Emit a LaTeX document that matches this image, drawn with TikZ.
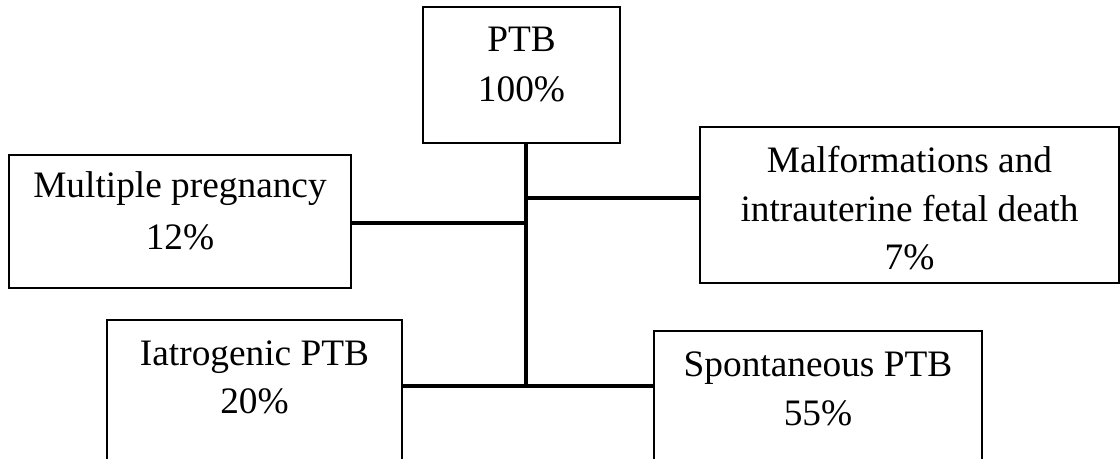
\documentclass[tikz,border=0pt]{standalone}
\usepackage{fontspec}
\setmainfont{Liberation Serif}
\begin{document}
\begin{tikzpicture}[x=0.75pt,y=-0.75pt,
  boxnode/.style={draw=black,line width=1.3pt,rectangle,inner sep=0pt,fill=white},
  txt/.style={anchor=base,inner sep=0pt,font=\fontsize{28}{34}\selectfont},
  conn/.style={draw=black,line width=2.8pt}]
\useasboundingbox (0,0) rectangle (1120,459);
\clip (0,0) rectangle (1120,459);
\fill[white] (0,0) rectangle (1120,459);
% boxes
\node[boxnode,minimum width=147.75pt,minimum height=102pt] (P) at (521.5,75) {};
\node[boxnode,minimum width=256.5pt,minimum height=99.75pt] (M) at (180,221.5) {};
\node[boxnode,minimum width=314.25pt,minimum height=117pt] (F) at (909.5,205) {};
\node[boxnode,minimum width=221.25pt,minimum height=112.5pt] (I) at (254.5,395) {};
\node[boxnode,minimum width=246pt,minimum height=111.75pt] (S) at (818,405.5) {};
% junctions
\coordinate (jF) at (526,198);
\coordinate (jM) at (526,223);
\coordinate (jB) at (526,386);
% connectors
\draw[conn] (jB |- P.south) -- (jB);
\draw[conn] (jF) -- (jF -| F.west);
\draw[conn] (M.east |- jM) -- (jM);
\draw[conn] (I.east |- jB) -- (jB) -- (jB -| S.west);
% texts
\node[txt] (p1) at (521.5,52) {PTB};
\node[txt] (p2) at (521.5,102) {100\%};
\node[txt] (m1) at (180,198) {Multiple pregnancy};
\node[txt] (m2) at (180,250) {12\%};
\node[txt] (f1) at (909.5,173) {Malformations and};
\node[txt] (f2) at (909.5,222) {intrauterine fetal death};
\node[txt] (f3) at (909.5,270) {7\%};
\node[txt] (i1) at (254.5,365) {Iatrogenic PTB};
\node[txt] (i2) at (254.5,413) {20\%};
\node[txt] (s1) at (818,377) {Spontaneous PTB};
\node[txt] (s2) at (818,425) {55\%};
\end{tikzpicture}
\end{document}
